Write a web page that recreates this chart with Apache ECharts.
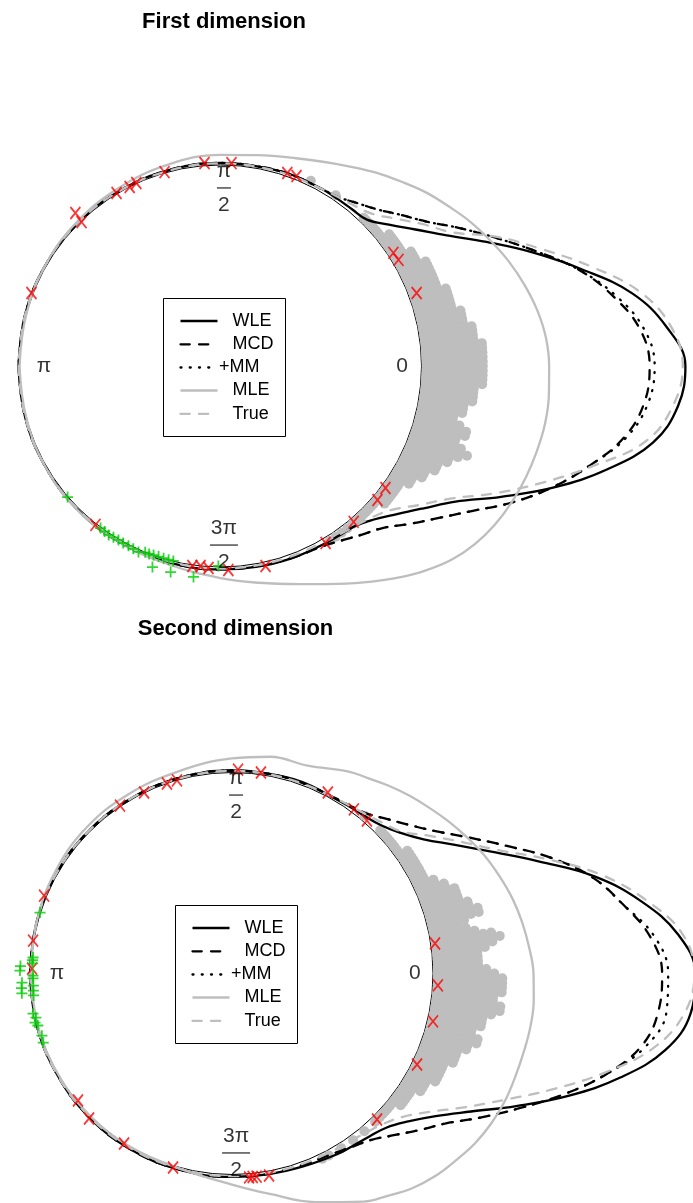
<!DOCTYPE html>
<html><head><meta charset="utf-8">
<script src="https://cdn.jsdelivr.net/npm/echarts@6/dist/echarts.min.js"></script>
<style>html,body{margin:0;padding:0;background:#fff}#c{width:693px;height:1203px}</style>
</head><body><div id="c"></div>
<script>
// ---------- data ----------
const titles = ['First dimension', 'Second dimension'];
const angles = [-180,-165,-150,-135,-120,-105,-90,-80,-70,-60,-55,-50,-45,-40,-35,-30,-25,-20,-15,-10,-5,0,5,10,15,20,25,30,35,40,45,50,55,60,70,80,90,105,120,135,150,165,180];

// panel 1 density curves (radius, 1 = data circle)
const wle1  = [1.005,1.005,1.005,1.008,1.010,1.010,1.012,1.015,1.020,1.024,1.030,1.040,1.080,1.146,1.234,1.350,1.540,1.766,1.990,2.186,2.285,2.313,2.228,2.080,1.860,1.652,1.460,1.300,1.184,1.094,1.030,1.018,1.015,1.015,1.015,1.010,1.010,1.008,1.005,1.005,1.005,1.005,1.005];
const mcd1  = [1.005,1.005,1.005,1.008,1.010,1.010,1.012,1.012,1.018,1.032,1.058,1.095,1.140,1.223,1.320,1.443,1.604,1.760,1.905,2.040,2.116,2.135,2.095,1.986,1.847,1.670,1.510,1.373,1.252,1.170,1.102,1.058,1.025,1.015,1.015,1.010,1.010,1.008,1.005,1.005,1.005,1.005,1.005];
const mm1   = [1.005,1.005,1.005,1.008,1.010,1.010,1.012,1.012,1.018,1.032,1.058,1.095,1.140,1.223,1.320,1.443,1.604,1.760,1.905,2.050,2.135,2.160,2.115,2.000,1.847,1.670,1.510,1.373,1.252,1.170,1.102,1.058,1.025,1.015,1.015,1.010,1.010,1.008,1.005,1.005,1.005,1.005,1.005];
const mle1  = [1.000,1.000,1.005,1.010,1.010,1.020,1.055,1.095,1.155,1.250,1.310,1.375,1.440,1.500,1.545,1.577,1.600,1.617,1.630,1.640,1.640,1.635,1.625,1.600,1.565,1.525,1.480,1.435,1.385,1.340,1.290,1.245,1.200,1.160,1.100,1.065,1.050,1.035,1.020,1.012,1.005,1.000,1.000];
const true1 = [1.005,1.005,1.005,1.005,1.005,1.005,1.008,1.008,1.010,1.015,1.025,1.040,1.065,1.113,1.206,1.320,1.500,1.700,1.920,2.150,2.260,2.300,2.250,2.120,1.910,1.700,1.520,1.330,1.230,1.140,1.070,1.040,1.025,1.015,1.010,1.008,1.008,1.005,1.005,1.005,1.005,1.005,1.005];

// panel 2 density curves
const wle2  = [1.005,1.005,1.005,1.008,1.010,1.010,1.012,1.015,1.023,1.040,1.047,1.060,1.085,1.145,1.237,1.373,1.560,1.780,2.000,2.190,2.290,2.305,2.228,2.068,1.867,1.628,1.431,1.281,1.164,1.090,1.045,1.024,1.015,1.010,1.015,1.010,1.010,1.008,1.005,1.005,1.005,1.005,1.005];
const mcd2  = [1.005,1.005,1.005,1.008,1.010,1.010,1.012,1.012,1.015,1.030,1.050,1.080,1.138,1.213,1.300,1.432,1.583,1.757,1.930,2.070,2.130,2.140,2.089,1.976,1.854,1.686,1.504,1.355,1.235,1.150,1.088,1.040,1.020,1.012,1.010,1.010,1.010,1.008,1.005,1.005,1.005,1.005,1.005];
const mm2   = [1.005,1.005,1.005,1.008,1.010,1.010,1.012,1.012,1.015,1.030,1.050,1.080,1.138,1.213,1.300,1.432,1.583,1.757,1.930,2.090,2.170,2.170,2.110,1.976,1.854,1.686,1.504,1.355,1.235,1.150,1.088,1.040,1.020,1.012,1.010,1.010,1.010,1.008,1.005,1.005,1.005,1.005,1.005];
const mle2  = [1.000,1.000,1.000,1.000,1.000,1.005,1.050,1.115,1.210,1.310,1.350,1.395,1.427,1.450,1.475,1.490,1.499,1.500,1.503,1.508,1.507,1.500,1.484,1.466,1.444,1.416,1.387,1.352,1.317,1.282,1.250,1.218,1.185,1.160,1.100,1.095,1.070,1.040,1.030,1.025,1.015,1.005,1.000];
const true2 = [1.005,1.005,1.005,1.005,1.005,1.005,1.008,1.008,1.010,1.015,1.020,1.035,1.060,1.110,1.200,1.332,1.490,1.690,1.914,2.130,2.260,2.300,2.250,2.094,1.900,1.665,1.455,1.312,1.195,1.100,1.060,1.035,1.020,1.012,1.008,1.008,1.008,1.005,1.005,1.005,1.005,1.005,1.005];

// stacked observations: bin angle (deg) and number of stacked points
const dotAngles1 = [64,56,46,45,44,43,42,41,40,39,38,37,36,35,34,33,32,31,30,29,28,27,26,25,24,23,22,21,20,19,18,17,16,15,14,13,12,11,10,9,8,7,6,5,4,3,2,1,0,-1,-2,-3,-4,-5,-6,-7,-8,-9,-10,-11,-12,-13,-14,-15,-16,-17,-18,-19,-20,-21,-22,-23,-24,-25,-26,-27,-28,-29,-30,-31,-32,-33,-34,-35,-36,-37,-38,-39,-40,-41,-42,-43,-44,-45,-46,-47,-48,-49,-50,-52,-54,-56,-58];
const dotCounts1 = [1,1,1,1,1,1,1,1,1,1,2,2,2,2,2,2,2,3,3,3,3,4,4,4,4,4,4,4,4,5,5,5,5,5,5,6,6,6,6,7,7,7,7,8,8,8,8,8,8,8,8,8,8,7,7,7,7,6,6,6,5,5,6,7,7,6,6,7,8,7,6,6,5,5,5,4,4,4,3,3,3,2,2,2,2,2,2,2,2,1,1,1,1,1,1,1,1,1,1,1,1,1,1];
const dotAngles2 = [50,44,43,42,41,40,39,38,37,36,35,34,33,32,31,30,29,28,27,26,25,24,23,22,21,20,19,18,17,16,15,14,13,12,11,10,9,8,7,6,5,4,3,2,1,0,-1,-2,-3,-4,-5,-6,-7,-8,-9,-10,-11,-12,-13,-14,-15,-16,-17,-18,-19,-20,-21,-22,-23,-24,-25,-26,-27,-28,-29,-30,-31,-32,-33,-34,-35,-36,-37,-38,-39,-40,-41,-42,-43,-44,-45,-46,-50,-54,-58,-62,-64];
const dotCounts2 = [1,1,1,1,1,1,1,1,1,1,2,2,2,2,2,2,2,2,2,2,3,3,4,4,5,5,5,5,6,6,7,7,5,4,5,6,8,9,8,7,6,6,6,6,7,8,9,9,9,9,8,8,9,9,8,7,7,7,6,6,7,7,6,6,5,5,5,5,4,4,4,4,4,4,3,3,3,3,2,2,2,2,2,2,1,1,1,1,1,1,1,1,1,1,1,1,1];

// flagged points (red x) and contaminating points (green +): angle, radius
const red1Ang = [158.9,133.5,134.0,121.0,116.9,114.7,106.1,94.5,86.9,70.9,68.2,33.2,30.8,20.4,-36.5,-40.5,-49.5,-59.3,-128.2,-98.0,-95.7,-93.4,-87.8,-77.3];
const red1Rad = [1.008,1.049,0.995,1.004,0.999,1.002,1.004,1.013,1.011,1.016,1.018,1.028,1.031,1.041,1.021,1.027,1.020,1.024,1.006,1.005,1.000,1.007,1.016,1.020];
const green1Ang = [-139.4,-126.5,-125.0,-123.5,-122.0,-120.4,-118.8,-117.1,-115.5,-113.8,-112.0,-110.8,-109.5,-108.0,-106.5,-105.0,-103.6,-108.7,-103.6,-97.3,-90.6];
const green1Rad = [1.002,1.003,1.005,1.008,1.005,1.003,1.005,1.005,1.008,1.011,1.000,1.000,0.998,0.997,0.997,0.998,0.998,1.056,1.055,1.058,0.995];
const red2Ang = [157.5,170.6,178.6,123.7,115.9,108.9,105.9,88.3,81.8,62.1,53.4,48.6,8.4,-3.3,-13.4,-26.2,-45.2,-140.5,-134.6,-122.4,-106.9,-85.2,-84.2,-83.1,-79.6];
const red2Rad = [1.012,1.003,0.995,1.004,1.001,0.999,0.999,1.015,1.010,1.019,1.017,1.015,1.021,1.026,1.028,1.026,1.024,0.993,1.013,1.002,1.009,1.018,1.018,1.018,1.022];
const green2Ang = [162.4,175.4,176.2,177.1,179.2,178.0,-179.4,-178.6,-177.5,-176.5,-176.0,-175.1,-174.6,-173.7,-168.6,-167.3,-166.0,-165.0,-161.9,-159.9];
const green2Rad = [1.002,0.993,0.995,0.993,1.055,1.053,0.990,0.990,1.046,0.990,1.050,0.992,1.050,0.993,1.010,1.000,1.010,1.000,0.995,1.000];

// direction labels
const dirLabels = ['0', 'π', 'π/2', '3π/2'];
const dirAngles1 = [0, 180, 88.9, 271.1];
const dirRadii1  = [0.903, 0.878, 0.886, 0.891];
const dirAngles2 = [0, 180, 88.7, 271.3];
const dirRadii2  = [0.910, 0.871, 0.888, 0.893];

// legend
const legendLabels = ['WLE', 'MCD', '+MM', 'MLE', 'True'];

// ---------- styling / layout ----------
const FONT = '"Liberation Sans", Arial, Helvetica, sans-serif';
const UNIT = 201, RMAX = 2.4;
const GRAY = '#BEBEBE', RED = '#FF0000', GREEN = '#00CD00';
const LW = 2.3;
const STACK_BASE = 1.025, STACK_STEP = 0.04;
const styles = {
  WLE:  {color: '#000', type: 'solid'},
  MCD:  {color: '#000', type: [9.25, 9.25]},
  MM:   {color: '#000', type: [1, 8.25]},
  MLE:  {color: GRAY,   type: 'solid'},
  True: {color: GRAY,   type: [9.25, 9.25]}
};
const legendStyleKeys = ['WLE', 'MCD', 'MM', 'MLE', 'True'];

const panels = [
  {cx: 220.5, cy: 366, titleX: 224, titleY: 22,
   curves: {WLE: wle1, MCD: mcd1, MM: mm1, MLE: mle1, True: true1},
   dotA: dotAngles1, dotN: dotCounts1,
   redA: red1Ang, redR: red1Rad, grA: green1Ang, grR: green1Rad,
   labA: dirAngles1, labR: dirRadii1},
  {cx: 232, cy: 973.5, titleX: 235.5, titleY: 629,
   curves: {WLE: wle2, MCD: mcd2, MM: mm2, MLE: mle2, True: true2},
   dotA: dotAngles2, dotN: dotCounts2,
   redA: red2Ang, redR: red2Rad, grA: green2Ang, grR: green2Rad,
   labA: dirAngles2, labR: dirRadii2}
];

const polar = [], angleAxis = [], radiusAxis = [], series = [], title = [], graphic = [];

function fracText(t) {
  if (t === 'π/2') return '{n|π}\n{b1|}\n{n|2}';
  if (t === '3π/2') return '{n|3π}\n{b2|}\n{n|2}';
  return '{s|' + t + '}';
}

panels.forEach((p, k) => {
  const frameIdx = 2 * k, dataIdx = 2 * k + 1;
  polar.push({center: [p.cx, p.cy], radius: UNIT});
  polar.push({center: [p.cx, p.cy], radius: UNIT * RMAX});
  angleAxis.push({polarIndex: frameIdx, type: 'value', min: -180, max: 180, startAngle: 180, clockwise: false,
    axisLine: {show: true, lineStyle: {color: '#000', width: 1}}, axisTick: {show: false}, axisLabel: {show: false}, splitLine: {show: false}, z: 0});
  angleAxis.push({polarIndex: dataIdx, type: 'value', min: -180, max: 180, startAngle: 180, clockwise: false, show: false});
  radiusAxis.push({polarIndex: frameIdx, type: 'value', min: 0, max: 1, show: false});
  radiusAxis.push({polarIndex: dataIdx, type: 'value', min: 0, max: RMAX, show: false});

  title.push({text: titles[k], left: p.titleX, top: p.titleY, textAlign: 'center', textVerticalAlign: 'middle', padding: 0,
    textStyle: {fontFamily: FONT, fontWeight: 'bold', fontSize: 22, color: '#000'}});

  // stacked points
  const dots = [];
  p.dotA.forEach((a, i) => { for (let j = 0; j < p.dotN[i]; j++) dots.push([STACK_BASE + j * STACK_STEP, a]); });
  series.push({type: 'scatter', coordinateSystem: 'polar', polarIndex: dataIdx, data: dots, symbol: 'circle', symbolSize: 10,
    itemStyle: {color: GRAY, opacity: 1}, silent: true, z: 2, animation: false});

  // density curves (grey ones last so they sit on top where all coincide)
  ['WLE', 'MCD', 'MM', 'True', 'MLE'].forEach(key => {
    const vals = p.curves[key];
    series.push({type: 'line', name: key, coordinateSystem: 'polar', polarIndex: dataIdx,
      data: angles.map((a, i) => [vals[i], a]), smooth: 0.4, symbol: 'none', showSymbol: false, clip: false,
      lineStyle: {color: styles[key].color, width: LW, type: styles[key].type, cap: styles[key].type === 'solid' ? 'butt' : 'round'},
      silent: true, z: 3, animation: false});
  });

  // red x marks
  series.push({type: 'scatter', coordinateSystem: 'polar', polarIndex: dataIdx,
    data: p.redA.map((a, i) => [p.redR[i], a]), symbol: 'path://M0,0L10,12M10,0L0,12', symbolSize: [10, 12],
    itemStyle: {color: 'rgba(0,0,0,0)', borderColor: RED, borderWidth: 1.8}, silent: true, z: 4, animation: false});
  // green + marks
  series.push({type: 'scatter', coordinateSystem: 'polar', polarIndex: dataIdx,
    data: p.grA.map((a, i) => [p.grR[i], a]), symbol: 'path://M5,0L5,10M0,5L10,5', symbolSize: 11,
    itemStyle: {color: 'rgba(0,0,0,0)', borderColor: GREEN, borderWidth: 1.8}, silent: true, z: 4, animation: false});

  // direction labels
  series.push({type: 'scatter', coordinateSystem: 'polar', polarIndex: dataIdx, symbolSize: 0.1,
    itemStyle: {color: 'rgba(0,0,0,0)'}, silent: true, z: 5, animation: false,
    data: dirLabels.map((t, i) => ({value: [p.labR[i], p.labA[i]],
      label: {show: true, position: 'inside', formatter: fracText(t), align: 'center', verticalAlign: 'middle',
        rich: {
          s: {fontFamily: FONT, fontSize: 21, color: '#000'},
          n: {fontFamily: FONT, fontSize: 21, color: '#000', lineHeight: 18, align: 'center'},
          b1: {width: 14, height: 1.3, lineHeight: 16, backgroundColor: '#000', align: 'center'},
          b2: {width: 28, height: 1.3, lineHeight: 16, backgroundColor: '#000', align: 'center'}
        }}}))});

  // legend box
  const L = Math.round(p.cx - 57.5), T = Math.round(p.cy - 68.5);
  const rowY = [23, 46.3, 69.5, 92.5, 115.8];
  graphic.push({type: 'rect', shape: {x: L + 0.5, y: T + 0.5, width: 122, height: 138},
    style: {fill: 'rgba(0,0,0,0)', stroke: '#000', lineWidth: 1}, z: 10, silent: true});
  legendLabels.forEach((lab, i) => {
    const st = styles[legendStyleKeys[i]];
    const y = T + rowY[i];
    const dashed = Array.isArray(st.type);
    graphic.push({type: 'line', shape: {x1: L + 17.5, y1: y, x2: L + 54.5, y2: y},
      style: {stroke: st.color, lineWidth: LW, lineDash: dashed ? st.type : null, lineCap: dashed ? 'round' : 'butt'}, z: 10, silent: true});
    graphic.push({type: 'text', x: L + (lab.charAt(0) === '+' ? 56 : 69.5), y: y,
      style: {text: lab, font: '18px ' + FONT, fill: '#000', align: 'left', verticalAlign: 'middle'}, z: 10, silent: true});
  });
});

const chart = echarts.init(document.getElementById('c'), null, {renderer: 'canvas', width: 693, height: 1203});
chart.setOption({
  animation: false,
  backgroundColor: '#fff',
  textStyle: {fontFamily: FONT},
  title, polar, angleAxis, radiusAxis, series, graphic
});
</script>
</body></html>
